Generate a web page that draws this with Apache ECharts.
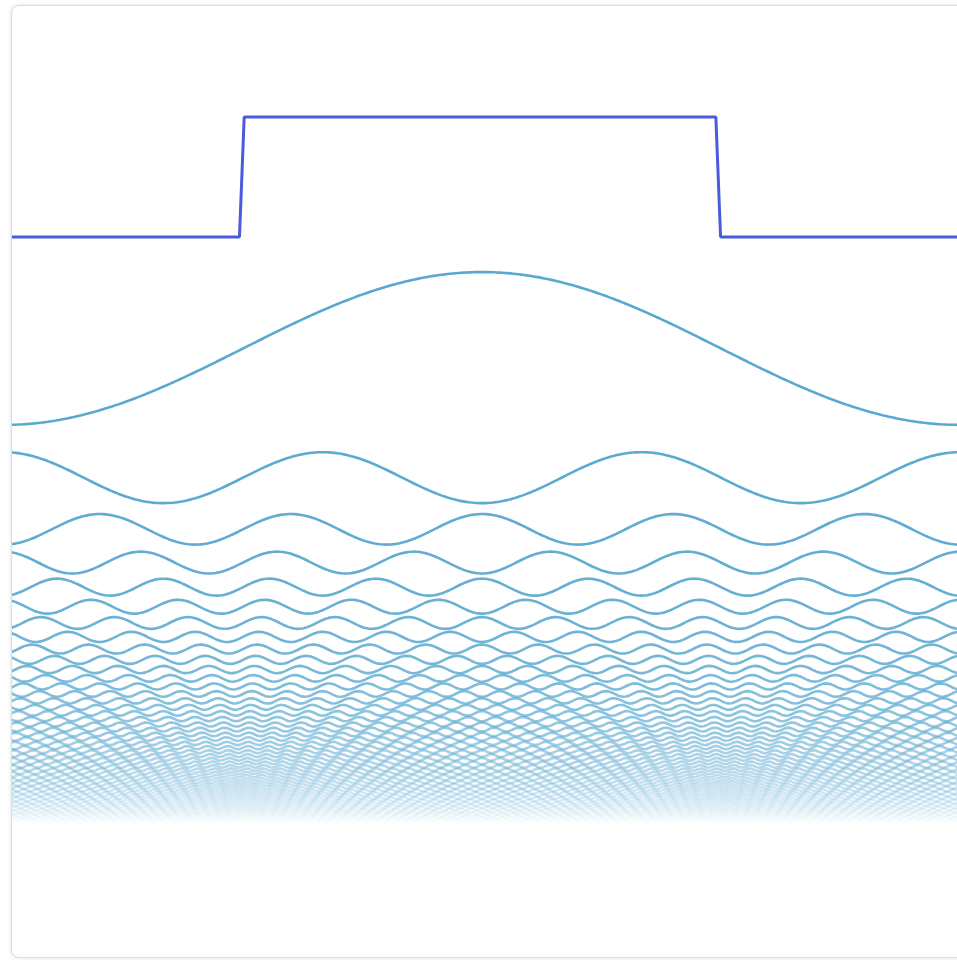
<!DOCTYPE html>
<html>
<head>
<meta charset="utf-8">
<script src="https://cdn.jsdelivr.net/npm/echarts@6/dist/echarts.min.js"></script>
<style>
  body { margin: 0; background: #fff; overflow: hidden; }
  #card {
    position: absolute; left: 11px; top: 5px; width: 1000px; height: 951px;
    border: 1px solid #dcdcdc; border-radius: 8px; overflow: hidden; background: #fff;
    box-shadow: 0 0 4px rgba(0, 0, 0, 0.12);
  }
  #chart { position: absolute; left: -8px; top: -6px; width: 960px; height: 960px; }
</style>
</head>
<body>
<div id="card"><div id="chart"></div></div>
<script>
// 方波（±1）
var squareX = [-Math.PI, -1.594, -1.563, 1.537, 1.568, Math.PI];
var squareY = [-1, -1, 1, 1, -1, -1];

// 奇次谐波及其在图中的竖直位置（单位同方波）
var harmonics = [1, 3, 5, 7, 9, 11, 13, 15, 17, 19, 21, 23, 25, 27, 29, 31, 33, 35, 37, 39,
  41, 43, 45, 47, 49, 51, 53, 55, 57, 59, 61, 63, 65, 67, 69, 71, 73, 75, 77, 79,
  81, 83, 85, 87, 89, 91, 93, 95, 97, 99, 101];
var offsets = [-2.858, -5.011, -5.872, -6.426, -6.836, -7.162, -7.433, -7.665, -7.868, -8.048,
  -8.209, -8.356, -8.491, -8.616, -8.731, -8.839, -8.940, -9.035, -9.125, -9.210,
  -9.291, -9.367, -9.441, -9.511, -9.578, -9.643, -9.705, -9.765, -9.823, -9.878,
  -9.932, -9.984, -10.035, -10.084, -10.131, -10.177, -10.222, -10.266, -10.308, -10.350,
  -10.390, -10.429, -10.468, -10.505, -10.542, -10.578, -10.613, -10.648, -10.681, -10.714,
  -10.746];

function initChart() {
  var myChart = echarts.init(document.getElementById("chart"));
  var samples = 1400;
  var series = [];

  series.push({
    type: "line",
    data: squareX.map(function (x, i) { return [x, squareY[i]]; }),
    showSymbol: false,
    lineStyle: { color: "#4a5bdc", width: 3 },
    z: 3,
  });

  //傅里叶级数各项
  harmonics.forEach(function (n, k) {
    var coef = 4 / (Math.PI * n) * (k % 2 === 0 ? 1 : -1);
    var data = [];
    for (var i = 0; i < samples; i++) {
      var x = -Math.PI + (2 * Math.PI * i) / (samples - 1);
      data.push([x, offsets[k] + coef * Math.cos(n * x)]);
    }
    series.push({
      type: "line",
      data: data,
      showSymbol: false,
      sampling: null,
      lineStyle: {
        color: "#58a8cf",
        width: 2.6,
        opacity: (harmonics.length - k) / harmonics.length,
      },
      z: 2,
    });
  });

  myChart.setOption({
    animation: false,
    grid: { left: 0, right: 4, top: 0, bottom: 0 },
    xAxis: { type: "value", min: -Math.PI, max: Math.PI, show: false },
    yAxis: { type: "value", min: -13.05, max: 2.95, show: false },
    series: series,
  });
  return myChart;
}
initChart();
</script>
</body>
</html>
